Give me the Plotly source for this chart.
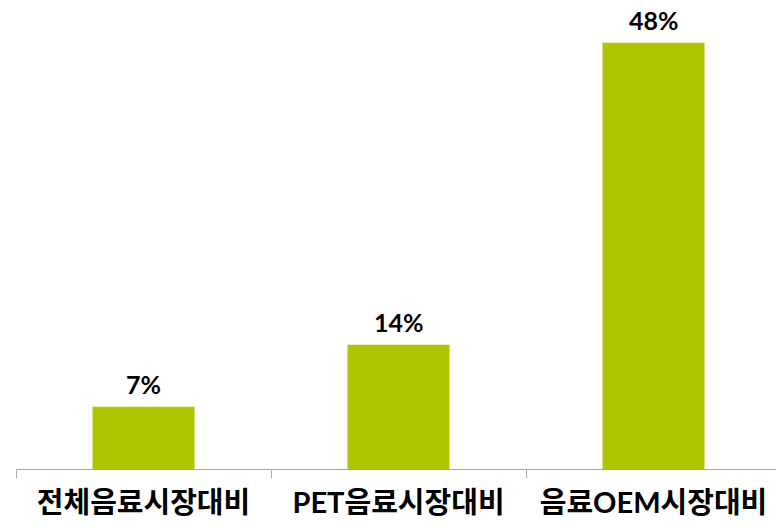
import plotly.graph_objects as go

categories = ["전체음료시장대비", "PET음료시장대비", "음료OEM시장대비"]
values = [7, 14, 48]
labels = ["7%", "14%", "48%"]

FONT = "Lato, 'Noto Sans CJK KR', sans-serif"

fig = go.Figure(go.Bar(
    x=categories, y=values,
    marker=dict(color="#B0C400", line=dict(width=0)),
    width=0.4, cliponaxis=False,
))

for c, v, t in zip(categories, values, labels):
    fig.add_annotation(
        x=c, y=v, text=t, showarrow=False, yanchor="bottom", yshift=6,
        font=dict(family=FONT, size=25, color="#000000", weight="bold"),
    )

fig.update_layout(
    width=784, height=528,
    margin=dict(l=8, r=11, t=10, b=67),
    plot_bgcolor="white", paper_bgcolor="white",
    showlegend=False,
    xaxis=dict(
        automargin=False,
        showline=True, linecolor="#A6A6A6", linewidth=1,
        ticks="outside", tickson="boundaries", ticklen=8, tickcolor="#A6A6A6",
        tickfont=dict(family=FONT, size=29, color="#000000", weight="bold"),
        ticklabelstandoff=8,
    ),
    yaxis=dict(visible=False, range=[0, 50.8], automargin=False),
)

fig.write_html("out.html")
